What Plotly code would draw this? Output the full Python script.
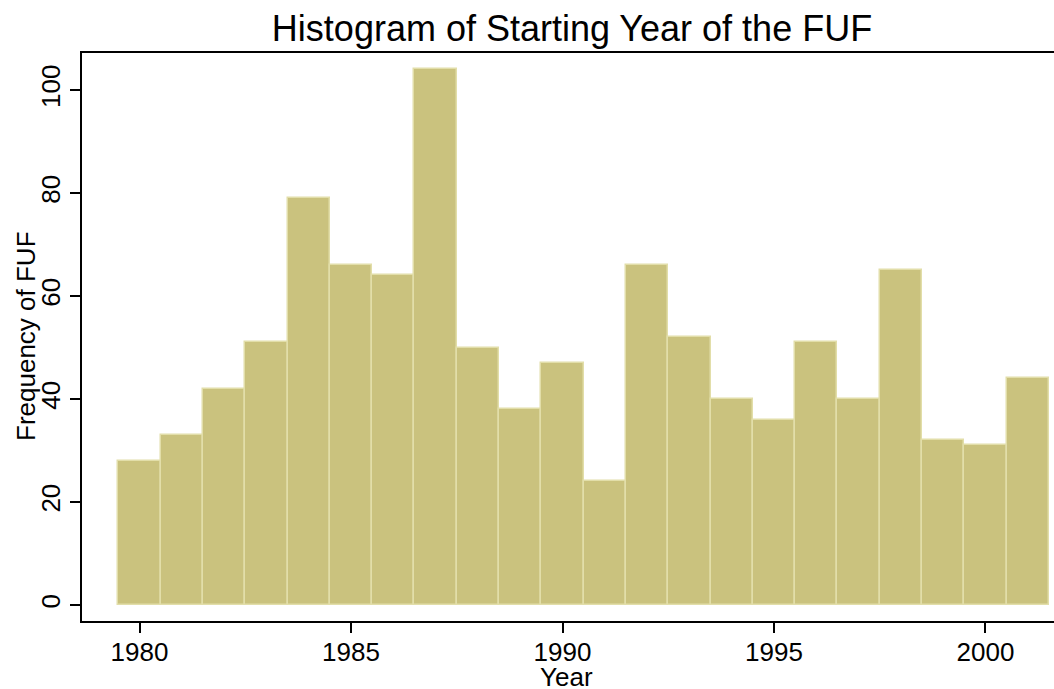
import plotly.graph_objects as go

# starting year of the FUF, one bin per year
years = list(range(1980, 2002))
freq = [28, 33, 42, 51, 79, 66, 64, 104, 50, 38, 47, 24,
        66, 52, 40, 36, 51, 40, 65, 32, 31, 44]

x_ticks = [1980, 1985, 1990, 1995, 2000]
y_ticks = [0, 20, 40, 60, 80, 100]

fig = go.Figure()
fig.add_trace(go.Bar(
    x=years, y=freq, width=1,
    marker=dict(color="#cac27e", line=dict(color="#e2dea9", width=1.5)),
))

font = "Liberation Sans, Arial, sans-serif"
plot_h = 621 - 53
fig.update_layout(
    width=1054, height=689,
    paper_bgcolor="white", plot_bgcolor="white",
    margin=dict(l=82, r=0, t=53, b=68, autoexpand=False),
    showlegend=False,
    bargap=0,
    font=dict(family=font, size=26, color="black"),
    title=dict(text="Histogram of Starting Year of the FUF",
               x=572 / 1054, xanchor="center",
               y=1 - 28 / 689, yanchor="middle",
               font=dict(size=36, color="black")),
    annotations=[
        dict(text="Year", xref="paper", yref="paper",
             x=(566 - 82) / (1054 - 82), y=-(677 - 621) / plot_h,
             xanchor="center", yanchor="middle",
             showarrow=False, font=dict(size=26)),
        dict(text="Frequency of FUF", xref="paper", yref="paper",
             x=-(82 - 26) / (1054 - 82), y=(621 - 336) / plot_h,
             xanchor="center", yanchor="middle", textangle=-90,
             showarrow=False, font=dict(size=26)),
    ],
)
fig.update_xaxes(
    range=[1978.64, 2001.62], tickvals=x_ticks, automargin=False,
    showline=True, linecolor="black", linewidth=1.5, mirror=True,
    ticks="outside", ticklen=10, tickcolor="black", tickwidth=1.5,
    ticklabelstandoff=-3,
    showgrid=False, zeroline=False,
)
fig.update_yaxes(
    range=[-3.1, 107.2], tickvals=y_ticks, tickangle=-90, automargin=False,
    showline=True, linecolor="black", linewidth=1.5,
    ticks="outside", ticklen=10, tickcolor="black", tickwidth=1.5,
    showgrid=False, zeroline=False,
)

fig.write_html("out.html", config={"displayModeBar": False},
               post_script="document.body.style.margin='0';")
